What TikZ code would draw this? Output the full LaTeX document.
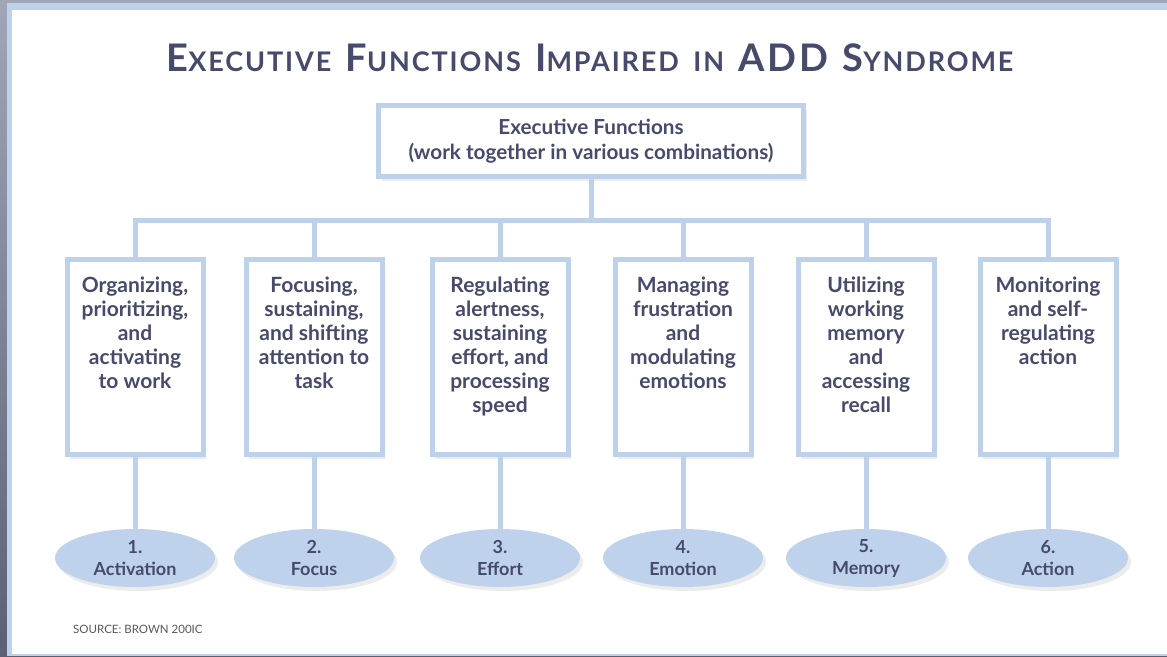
\documentclass[tikz,border=0pt]{standalone}
\usepackage{fontspec}
\setmainfont{Lato}
\usepackage{tikz}
\usetikzlibrary{positioning}
\usetikzlibrary{shapes.geometric,shadows}

\definecolor{inkblue}{HTML}{464A6B}
\definecolor{lineblue}{HTML}{BDD1EB}
\definecolor{ovalblue}{HTML}{BFD2EC}
\definecolor{framegray}{HTML}{A0A6B5}
\definecolor{framedark}{HTML}{5A6176}

\newcommand{\titlecap}[2]{{\fontsize{38}{38}\selectfont #1}{\fontsize{27}{27}\selectfont #2}}
\newcommand{\boxtext}[1]{\parbox[c][160pt][t]{134pt}{\centering #1}}

\begin{document}
\begin{tikzpicture}[x=1pt, y=-1pt,
    box/.style={draw=lineblue, line width=5pt, fill=white, inner sep=0pt, outer sep=0pt,
      minimum width=136pt, minimum height=195pt, text=inkblue,
      font=\fontsize{21}{24}\selectfont\bfseries,
      drop shadow={shadow xshift=3pt, shadow yshift=-4pt, opacity=0.15}},
    oval/.style={ellipse, fill=ovalblue, inner sep=0pt, minimum width=160pt, minimum height=58pt,
      text=inkblue, align=center, font=\fontsize{18}{22}\selectfont\bfseries,
      drop shadow={shadow xshift=3pt, shadow yshift=-4pt, opacity=0.15}},
    conn/.style={draw=lineblue, line width=5pt}]
  \useasboundingbox (0,0) rectangle (1167,656);
  % Marco
  \shade[top color=framegray, bottom color=framedark] (0,0) rectangle (1167,656);
  \fill[lineblue] (7,3) rectangle (1167,656);
  \fill[white] (12,10) rectangle (1167,654);

  % Nodos
  \node[anchor=base, text=inkblue, font=\fontsize{27}{27}\selectfont\bfseries] (title) at (590,71)
    {\addfontfeature{LetterSpace=7}\titlecap{E}{XECUTIVE}\hspace{6pt} \titlecap{F}{UNCTIONS}\hspace{6pt} \titlecap{I}{MPAIRED}\hspace{6pt} \titlecap{}{IN}\hspace{6pt} \titlecap{ADD}{}\hspace{6pt} \titlecap{S}{YNDROME}};
  \node[box, minimum width=425pt, minimum height=71pt, align=center,
    font=\fontsize{20.7}{25}\selectfont\bfseries] (top) at (591,141)
    {Executive Functions\\(work together in various combinations)};
  \coordinate (bar) at (591,220);

  \node[box] (b1) at (135,357) {\boxtext{Organizing,\\prioritizing,\\and\\activating\\to work}};
  \node[box] (b2) at (314,357) {\boxtext{Focusing,\\sustaining,\\and shifting\\attention to\\task}};
  \node[box] (b3) at (500,357) {\boxtext{Regulating\\alertness,\\sustaining\\effort, and\\processing\\speed}};
  \node[box] (b4) at (683,357) {\boxtext{Managing\\frustration\\and\\modulating\\emotions}};
  \node[box] (b5) at (866,357) {\boxtext{Utilizing\\working\\memory\\and\\accessing\\recall}};
  \node[box] (b6) at (1048,357) {\boxtext{Monitoring\\and self-\\regulating\\action}};

  \node[oval] (e1) at (135,558) {1.\\Activation};
  \node[oval] (e2) at (314,558) {2.\\Focus};
  \node[oval] (e3) at (500,558) {3.\\Effort};
  \node[oval] (e4) at (683,558) {4.\\Emotion};
  \node[oval] (e5) at (866,558) {5.\\Memory};
  \node[oval] (e6) at (1048,558) {6.\\Action};

  \node[anchor=base west, inner sep=0pt, text=black!65, font=\fontsize{11.5}{11.5}\selectfont] (source) at (73,633)
    {SOURCE: BROWN 200IC};

  % Aristas
  \draw[conn] (top) -- (bar);
  \draw[conn] (bar) -| (b1);
  \draw[conn] (bar) -| (b2);
  \draw[conn] (bar) -| (b3);
  \draw[conn] (bar) -| (b4);
  \draw[conn] (bar) -| (b5);
  \draw[conn] (bar) -| (b6);
  \draw[conn] (b1) -- (e1);
  \draw[conn] (b2) -- (e2);
  \draw[conn] (b3) -- (e3);
  \draw[conn] (b4) -- (e4);
  \draw[conn] (b5) -- (e5);
  \draw[conn] (b6) -- (e6);
\end{tikzpicture}
\end{document}
